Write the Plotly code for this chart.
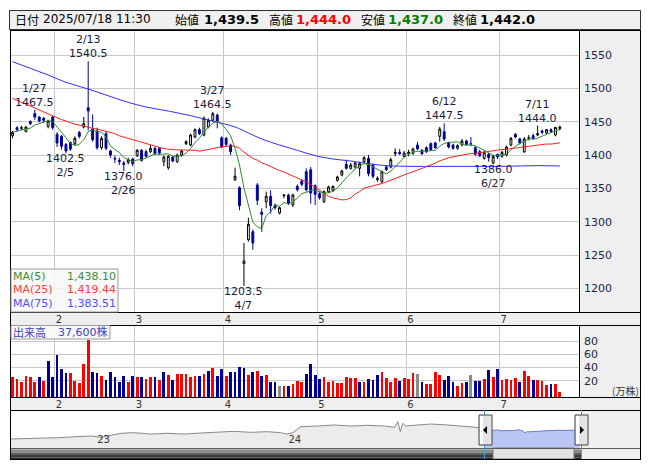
import plotly.graph_objects as go
import pandas as pd

# page body has an 8px margin: the figure is placed at (8,8)
OX, OY = 8, 8
W, H = 645, 462
def px(x): return (x - OX) / W
def py(y): return 1 - (y - OY) / H

# ---------------- data ----------------
holidays = ['2025-02-11', '2025-02-24', '2025-03-20', '2025-04-29', '2025-05-05', '2025-05-06']
dates = [d for d in pd.bdate_range('2025-01-20', '2025-07-18') if d.strftime('%Y-%m-%d') not in holidays]

opens = [1429, 1441, 1440, 1435, 1450, 1462, 1457, 1455, 1443, 1457,
         1431, 1428, 1416, 1419, 1417, 1434, 1442, 1471, 1439, 1436,
         1411, 1432, 1406, 1395, 1392, 1388, 1389, 1394, 1399, 1407,
         1405, 1405, 1410, 1410, 1390, 1381, 1397, 1390, 1400, 1417,
         1415, 1427, 1438, 1430, 1442, 1452, 1460, 1426, 1425, 1415,
         1363, 1351, 1237, 1273, 1285, 1355, 1314, 1330, 1338, 1325,
         1313, 1339, 1340, 1325, 1353, 1361, 1375, 1378, 1354, 1342,
         1330, 1345, 1347, 1362, 1370, 1386, 1380, 1382, 1380, 1390,
         1395, 1385, 1363, 1360, 1382, 1382, 1402, 1404, 1398, 1402,
         1403, 1415, 1407, 1411, 1417, 1418, 1428, 1435, 1418, 1415,
         1410, 1415, 1421, 1417, 1411, 1405, 1395, 1401, 1388, 1401,
         1398, 1400, 1415, 1431, 1424, 1405, 1425, 1429, 1430, 1436,
         1433, 1438, 1430, 1439.5]
highs = [1436, 1443, 1444, 1443, 1452, 1467.5, 1458, 1457, 1453, 1459,
         1434, 1430, 1418, 1420, 1428, 1436, 1457, 1540.5, 1461, 1441,
         1428, 1435, 1408, 1399, 1396, 1391, 1396, 1396, 1409, 1409,
         1408, 1415, 1412, 1412, 1399, 1400, 1399, 1402, 1408, 1422,
         1432, 1440, 1441, 1458, 1455, 1464.5, 1462, 1428, 1427, 1417,
         1381, 1353, 1268, 1306, 1288, 1358, 1320, 1345, 1347, 1327,
         1323, 1341, 1342, 1342, 1356, 1364, 1380, 1382, 1356, 1345,
         1347, 1354, 1354, 1369, 1378, 1393, 1388, 1390, 1390, 1398,
         1400, 1387, 1368, 1377, 1385, 1396, 1410, 1409, 1406, 1408,
         1411, 1420, 1409, 1413, 1419, 1420, 1442, 1447.5, 1420, 1417,
         1416, 1424, 1423, 1427, 1413, 1408, 1407, 1403, 1400, 1402,
         1406, 1414, 1427, 1433, 1426, 1427, 1430, 1432, 1444, 1438,
         1439, 1440, 1442, 1444]
lows = [1425, 1435, 1437, 1434, 1445, 1453, 1449, 1448, 1440, 1438,
        1412, 1408, 1402.5, 1406, 1414, 1425, 1440, 1437, 1420, 1408,
        1408, 1407, 1396, 1388, 1385, 1376, 1386, 1383, 1397, 1390,
        1396, 1403, 1400, 1400, 1383, 1378, 1389, 1388, 1398, 1415,
        1413, 1425, 1430, 1428, 1440, 1450, 1440, 1410, 1413, 1400,
        1361, 1317, 1203.5, 1270, 1258, 1325, 1285, 1320, 1312, 1318,
        1311, 1335, 1325, 1322, 1345, 1353, 1345, 1327, 1325, 1333,
        1328, 1343, 1345, 1360, 1368, 1378, 1378, 1380, 1368, 1388,
        1368, 1365, 1360, 1358, 1376, 1380, 1398, 1400, 1396, 1398,
        1400, 1407, 1400, 1403, 1406, 1409, 1420, 1421, 1410, 1408,
        1408, 1413, 1414, 1413, 1399, 1397, 1393, 1390, 1386, 1394,
        1396, 1398, 1413, 1425, 1416, 1403, 1422, 1423, 1428, 1431,
        1431, 1433, 1428, 1437]
closes = [1434, 1438, 1441, 1442, 1447, 1457, 1451, 1452, 1451, 1441,
          1418, 1413, 1406, 1409, 1425, 1428, 1447, 1466, 1423, 1411,
          1425, 1410, 1400, 1394, 1390, 1386, 1393, 1387, 1407, 1392,
          1398, 1410, 1402, 1403, 1397, 1398, 1391, 1400, 1406, 1420,
          1430, 1438, 1432, 1455, 1452, 1462, 1450, 1412, 1416, 1405,
          1368, 1324, 1241, 1296, 1268, 1332, 1311, 1338, 1324, 1321,
          1321, 1340, 1327, 1340, 1348, 1356, 1348, 1343, 1341, 1336,
          1345, 1352, 1353, 1367, 1376, 1380, 1385, 1388, 1387, 1396,
          1372, 1368, 1365, 1375, 1378, 1393, 1404, 1402, 1403, 1404,
          1409, 1409, 1402, 1405, 1408, 1411, 1439, 1424, 1412, 1410,
          1414, 1421, 1416, 1416, 1401, 1399, 1404, 1396, 1398, 1397,
          1404, 1412, 1425, 1427, 1418, 1424, 1426, 1425, 1432, 1434,
          1438, 1435, 1441.5, 1442]
volumes = [26.2, 22.7, 18.7, 27.2, 26.2, 18.7, 26.2, 20.2, 50.4, 26.2,
           59.0, 37.8, 32.3, 32.3, 20.2, 17.1, 45.4, 81.7, 33.3, 32.3,
           27.7, 21.2, 33.3, 25.7, 18.7, 27.2, 18.7, 27.2, 25.7, 25.7,
           22.7, 25.7, 25.7, 21.2, 33.3, 28.7, 21.2, 30.3, 30.3, 30.3,
           25.7, 27.2, 27.2, 30.3, 34.8, 39.3, 27.2, 37.8, 27.2, 33.3,
           33.8, 40.3, 39.3, 28.7, 33.3, 34.8, 27.2, 28.7, 18.2, 18.2,
           12.1, 12.1, 12.1, 15.1, 19.7, 18.2, 30.3, 45.4, 28.7, 22.7,
           26.2, 18.7, 20.2, 17.1, 17.1, 26.2, 24.2, 24.2, 18.7, 18.7,
           22.7, 21.2, 28.7, 33.8, 23.7, 18.7, 24.2, 20.2, 23.7, 22.7,
           32.3, 30.3, 18.7, 15.1, 15.1, 33.8, 28.7, 21.2, 27.2, 18.7,
           12.1, 17.1, 18.7, 28.7, 20.2, 20.2, 22.7, 36.3, 25.2, 37.8,
           21.2, 22.7, 21.2, 24.2, 18.7, 34.8, 27.2, 21.2, 21.2, 20.2,
           13.6, 15.1, 15.1, 3.76]

ma25_head = [1485, 1482, 1479, 1476, 1473, 1470, 1467, 1464, 1461, 1458,
             1455, 1453, 1451, 1448, 1446, 1445, 1443, 1442, 1440, 1439,
             1437, 1435, 1434, 1432]
ma75_idx = [0, 4, 8, 12, 17, 21, 26, 30, 35, 40, 45, 50, 53, 56, 60, 64, 68, 72, 76, 80, 84, 90, 100, 110, 118, 123]
ma75_val = [1540, 1530, 1520, 1509, 1499, 1490, 1479, 1472, 1466, 1459, 1451, 1442, 1433, 1424, 1415, 1407,
            1399, 1394, 1391, 1387, 1384, 1383, 1383, 1383, 1384, 1383.51]

nav_idx = [-609, -590, -569, -547, -526, -504, -494, -483, -467, -451, -429, -408, -386, -364, -343, -322,
           -300, -279, -262, -254, -246, -236, -214, -193, -171, -150, -128, -115, -111, -108, -105, -101,
           -85, -69, -53, -37, -20, -7, -1]
nav_val = [846, 868, 890, 934, 1000, 1044, 956, 1044, 1220, 1264, 1176, 1220, 1176, 1242, 1308, 1352,
           1286, 1330, 1264, 1176, 1264, 1660, 1704, 1770, 1704, 1748, 1704, 1616, 1990, 1330, 1880, 1704,
           1770, 1836, 1792, 1704, 1660, 1594, 1484]
year_tick_idx = [-500, -254]
year_labels = ['23', '24']

price_ticks = [1200, 1250, 1300, 1350, 1400, 1450, 1500, 1550]
vol_ticks = [20, 40, 60, 80]
month_labels = ['2', '3', '4', '5', '6', '7']

hdr_date = '2025/07/18 11:30'
hdr_open, hdr_high, hdr_low, hdr_close = '1,439.5', '1,444.0', '1,437.0', '1,442.0'
ma_names = ['MA(5)', 'MA(25)', 'MA(75)']
ma_last = ['1,438.10', '1,419.44', '1,383.51']
vol_last = '37,600株'

peaks = [(5, 1467.5, '1/27', 'hi'), (17, 1540.5, '2/13', 'hi'), (45, 1464.5, '3/27', 'hi'),
         (97, 1447.5, '6/12', 'hi'), (118, 1444.0, '7/11', 'hi'),
         (12, 1402.5, '2/5', 'lo'), (25, 1376.0, '2/26', 'lo'), (52, 1203.5, '4/7', 'lo'),
         (108, 1386.0, '6/27', 'lo')]

# ---------------- derived ----------------
n = len(closes)
idx = list(range(n))
cs = pd.Series(closes, dtype=float)
ma5 = cs.rolling(5, min_periods=1).mean().tolist()
ma25_full = cs.rolling(25).mean().tolist()
ma25 = ma25_head + ma25_full[len(ma25_head):]

month_first = [i for i in range(1, n) if dates[i].month != dates[i - 1].month]
month_grid = [i - 0.5 for i in month_first]

UP, DOWN, FLAT = '#ff0000', '#000099', '#8c8c8c'
vcol = []
for i, c in enumerate(closes):
    if i == 0 or c > closes[i - 1]:
        vcol.append(UP)
    elif c < closes[i - 1]:
        vcol.append(DOWN)
    else:
        vcol.append(FLAT)

VFLOOR = -4.5
XR = [-0.35, 127.3]

FONT = 'DejaVu Sans, Noto Sans CJK JP'
CJK = 'Noto Sans CJK JP, DejaVu Sans'

fig = go.Figure()

fig.add_trace(go.Candlestick(
    x=idx, open=opens, high=highs, low=lows, close=closes,
    increasing=dict(line=dict(color='#000000', width=1), fillcolor='#ffffff'),
    decreasing=dict(line=dict(color='#000099', width=1), fillcolor='#000099'),
    whiskerwidth=0, xaxis='x', yaxis='y', showlegend=False, hoverinfo='skip'))
fig.add_trace(go.Scatter(x=ma75_idx, y=ma75_val, mode='lines', line=dict(color='#3030ff', width=1, shape='spline'),
                         xaxis='x', yaxis='y', showlegend=False, hoverinfo='skip'))
fig.add_trace(go.Scatter(x=idx, y=ma25, mode='lines', line=dict(color='#ff2020', width=1),
                         xaxis='x', yaxis='y', showlegend=False, hoverinfo='skip'))
fig.add_trace(go.Scatter(x=idx, y=ma5, mode='lines', line=dict(color='#2e8b2e', width=1),
                         xaxis='x', yaxis='y', showlegend=False, hoverinfo='skip'))

fig.add_trace(go.Bar(x=idx, y=[v - VFLOOR for v in volumes], base=VFLOOR, width=0.62,
                     marker=dict(color=vcol, line=dict(width=0)),
                     xaxis='x2', yaxis='y2', showlegend=False, hoverinfo='skip'))

fig.add_trace(go.Scatter(x=nav_idx, y=nav_val, mode='lines', line=dict(color='#8a8a8a', width=1),
                         fill='tozeroy', fillcolor='#ececec', xaxis='x3', yaxis='y3',
                         showlegend=False, hoverinfo='skip'))
fig.add_trace(go.Scatter(x=idx, y=closes, mode='lines', line=dict(color='#6a78c8', width=1),
                         fill='tozeroy', fillcolor='#b9c6f6', xaxis='x3', yaxis='y3',
                         showlegend=False, hoverinfo='skip'))

grid = '#c8c8c8'
tickfont = dict(family=FONT, size=11, color='#1e1e46')
mfont = dict(family=FONT, size=10, color='#333333')

fig.update_layout(
    width=W, height=H, margin=dict(l=0, r=0, t=0, b=0),
    paper_bgcolor='#ffffff', plot_bgcolor='#ffffff',
    boxgap=0.4, bargap=0,
    xaxis=dict(domain=[px(11), px(579)], range=XR, anchor='y', tickmode='array',
               tickvals=month_grid, ticktext=month_labels, ticklabelshift=4,
               ticklabelstandoff=0,
               showgrid=True, gridcolor=grid, gridwidth=1, zeroline=False, ticks='',
               tickfont=mfont, rangeslider=dict(visible=False), automargin=False),
    yaxis=dict(domain=[py(312), py(30)], range=[1164.5, 1587.5], side='right', anchor='x',
               tickmode='array', tickvals=price_ticks, showgrid=True, gridcolor=grid, zeroline=False,
               ticks='', ticklabelstandoff=4, tickfont=tickfont, automargin=False),
    xaxis2=dict(domain=[px(11), px(579)], range=XR, anchor='y2', tickmode='array',
                tickvals=month_grid, ticktext=month_labels, ticklabelshift=4,
                ticklabelstandoff=0,
                showgrid=True, gridcolor=grid, zeroline=False, ticks='', tickfont=mfont, automargin=False),
    yaxis2=dict(domain=[py(397), py(325)], range=[VFLOOR, 104.2], side='right', anchor='x2',
                tickmode='array', tickvals=vol_ticks, showgrid=True, gridcolor=grid, zeroline=False,
                ticks='', ticklabelstandoff=4, tickfont=tickfont, automargin=False),
    xaxis3=dict(domain=[px(10), px(581)], range=[-610, 124.5], anchor='y3', tickmode='array',
                tickvals=year_tick_idx, ticktext=year_labels, ticklabelposition='inside',
                ticklabelshift=8, showgrid=False, zeroline=False, ticks='',
                tickfont=dict(family=FONT, size=10, color='#333333'), automargin=False),
    yaxis3=dict(domain=[py(448), py(411)], range=[252, 2694], anchor='x3', showgrid=False,
                showticklabels=False, zeroline=False, ticks='', automargin=False),
)

shapes = []
def rect(x0, y0, x1, y1, fill=None, line=None, lw=1, layer='below'):
    shapes.append(dict(type='rect', xref='paper', yref='paper', x0=px(x0), x1=px(x1), y0=py(y1), y1=py(y0),
                       fillcolor=fill if fill else 'rgba(0,0,0,0)',
                       line=dict(color=line if line else 'rgba(0,0,0,0)', width=lw if line else 0),
                       layer=layer))
def hline(x0, x1, y, color='#000000', lw=1):
    shapes.append(dict(type='line', xref='paper', yref='paper', x0=px(x0), x1=px(x1), y0=py(y), y1=py(y),
                       line=dict(color=color, width=lw), layer='above'))
def vline(x, y0, y1, color='#000000', lw=1):
    shapes.append(dict(type='line', xref='paper', yref='paper', x0=px(x), x1=px(x), y0=py(y0), y1=py(y1),
                       line=dict(color=color, width=lw), layer='above'))

panel = '#efefef'
rect(9.5, 10.5, 640.5, 29.5, fill='#f0f0f0', line='#303030')
rect(579, 30, 641, 312, fill=panel)
rect(10, 312, 641, 325, fill=panel)
rect(579, 325, 641, 397, fill=panel)
rect(10, 397, 641, 410, fill=panel)
rect(581, 410, 641, 459, fill=panel)
sb = [('#b4b4b4', 448, 450), ('#8a8a8a', 450, 452.5), ('#5e5e5e', 452.5, 455), ('#3c3c3c', 455, 457.5), ('#2a2a2a', 457.5, 459)]
for col, a, b in sb:
    rect(10, a, 493, b, fill=col, layer='above')
    rect(574, a, 582, b, fill=col, layer='above')
rect(493, 448, 574, 459, fill='#e2e2e2', line='#7a7a7a', layer='above')
hline(10, 641, 30.5)
hline(10, 641, 312.5)
hline(10, 641, 325.5)
hline(10, 641, 397.5)
hline(10, 641, 410.5)
hline(10, 641, 448.5, color='#5a5a5a')
hline(10, 641, 459.5)
vline(10.5, 30, 460)
vline(579.5, 30, 313)
vline(579.5, 325, 398)
vline(640.5, 30, 460)
vline(484.5, 410, 459, color='#3fa0d8')
vline(581.5, 410, 459, color='#3fa0d8')
for hx in (479, 575):
    rect(hx, 415, hx + 13, 445, fill='#e4e4e4', line='#444444', layer='above')
    rect(hx + 1, 416, hx + 4, 444, fill='#ffffff', layer='above')
shapes.append(dict(type='path', xref='paper', yref='paper', layer='above',
                   path=f'M {px(483)} {py(430)} L {px(487)} {py(426)} L {px(487)} {py(434)} Z',
                   fillcolor='#000000', line=dict(width=0)))
shapes.append(dict(type='path', xref='paper', yref='paper', layer='above',
                   path=f'M {px(584)} {py(430)} L {px(580)} {py(426)} L {px(580)} {py(434)} Z',
                   fillcolor='#000000', line=dict(width=0)))
rect(11, 269, 118, 312, fill='rgba(248,248,248,0.85)', line='#999999', layer='above')
rect(11, 325.5, 110, 339, fill='rgba(248,248,248,0.9)', line='#999999', layer='above')
fig.update_layout(shapes=shapes)

ann = []
def text(x, y, s, size=11, color='#000000', family=FONT, xanchor='left', bold=False):
    ann.append(dict(xref='paper', yref='paper', x=px(x), y=py(y), text=(f'<b>{s}</b>' if bold else s),
                    showarrow=False, xanchor=xanchor, yanchor='middle',
                    font=dict(family=family, size=size, color=color)))

text(13, 19.5, '日付', 12, '#000000', CJK)
text(41, 19.5, hdr_date, 12, '#000000')
text(173, 19.5, '始値', 12, '#000000', CJK)
text(202, 19.5, hdr_open, 13, '#000000', bold=True)
text(267, 19.5, '高値', 12, '#000000', CJK)
text(294, 19.5, hdr_high, 13, '#ff0000', bold=True)
text(359, 19.5, '安値', 12, '#000000', CJK)
text(386, 19.5, hdr_low, 13, '#008000', bold=True)
text(451, 19.5, '終値', 12, '#000000', CJK)
text(478, 19.5, hdr_close, 13, '#000000', bold=True)

ma_cols = ['#3c8c3c', '#ff3c3c', '#5050ff']
for k, (nm, val, col) in enumerate(zip(ma_names, ma_last, ma_cols)):
    yy = 276 + k * 13.5
    text(11, yy, nm, 11, col)
    text(118, yy, val, 11, col, xanchor='right')

text(11, 332, '出来高', 11, '#4040c0', CJK)
text(56, 332, vol_last, 11, '#4040c0')
text(641, 390, '(万株)', 10, '#333333', CJK, xanchor='right')

for i, v, d, kind in peaks:
    val = f'{v:.1f}'
    if kind == 'hi':
        ann.append(dict(xref='x', yref='y', x=i, y=v, text=f'{d}<br>{val}', showarrow=False,
                        xanchor='center', yanchor='bottom', yshift=-1,
                        font=dict(family=FONT, size=11, color='#1a1a3a')))
    else:
        ann.append(dict(xref='x', yref='y', x=i, y=v, text=f'{val}<br>{d}', showarrow=False,
                        xanchor='center', yanchor='top', yshift=3,
                        font=dict(family=FONT, size=11, color='#1a1a3a')))

fig.update_layout(annotations=ann)
fig.write_html('out.html')
